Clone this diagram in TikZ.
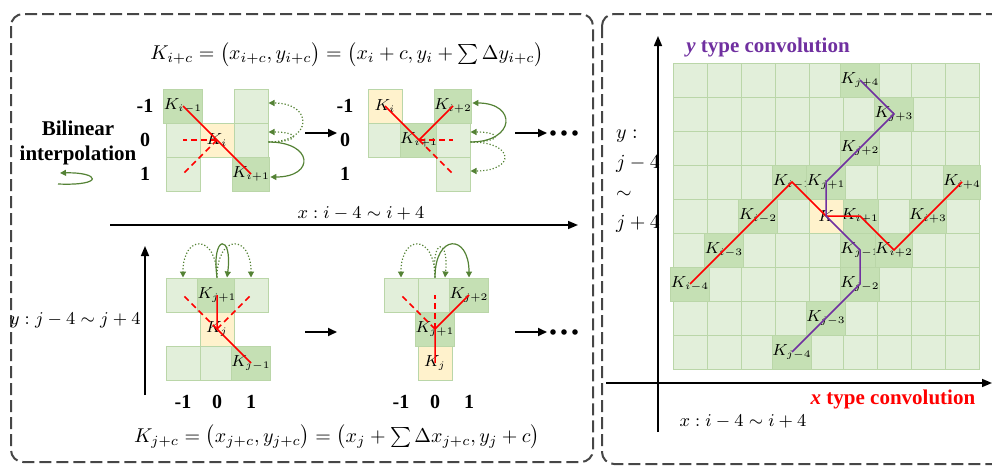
\documentclass[tikz,border=0pt]{standalone}
\usepackage{fontspec}
\setmainfont{Liberation Serif}
\usepackage{amsmath}
\usetikzlibrary{arrows.meta, calc}
\definecolor{lightcell}{RGB}{226,239,218}
\definecolor{darkcell}{RGB}{197,224,180}
\definecolor{yellowcell}{RGB}{255,242,204}
\definecolor{cellline}{RGB}{186,214,168}
\definecolor{arcgreen}{RGB}{84,130,53}
\definecolor{ypurple}{RGB}{112,48,160}
\definecolor{panelgray}{RGB}{70,70,70}
\newcommand{\kl}[1]{$K_{\scriptscriptstyle #1}$}

\begin{document}
\begin{tikzpicture}[x=0.5pt, y=-0.5pt,
    lcell/.style={draw=cellline, fill=lightcell, minimum size=17pt, inner sep=0pt, line width=0.5pt, font=\footnotesize},
    dcell/.style={lcell, fill=darkcell},
    ycell/.style={lcell, fill=yellowcell},
    panel/.style={draw=panelgray, line width=1pt, dash pattern=on 6pt off 2.5pt, rounded corners=6pt},
    xpath/.style={red, line width=0.75pt},
    xguess/.style={red, line width=0.75pt, dash pattern=on 3pt off 2pt},
    ypath/.style={ypurple, line width=0.75pt},
    pick/.style={arcgreen, line width=0.6pt, -{Triangle[length=3pt,width=3pt]}},
    guess/.style={pick, densely dotted},
    axisline/.style={line width=0.75pt, -{Triangle[length=5pt,width=4pt]}},
    stepto/.style={line width=1pt, -{Triangle[length=4.5pt,width=4pt]}},
    rowlab/.style={font=\bfseries, inner sep=1pt},
    rangelab/.style={font=\small},
    title/.style={font=\fontsize{10.5}{12.5}\selectfont\bfseries}
]
\useasboundingbox (0,0) rectangle (992,466);
\draw[panel] (11,14) rectangle (593,462);
\draw[panel] (602,14) rectangle (1010,464);

\node[inner sep=0pt] (eq1) at (347,55) {$K_{i+c}=\bigl(x_{i+c},y_{i+c}\bigr)=\bigl(x_i+c,y_i+\sum\Delta y_{i+c}\bigr)$};
\node[inner sep=0pt] (eq2) at (337,437) {$K_{j+c}=\bigl(x_{j+c},y_{j+c}\bigr)=\bigl(x_j+\sum\Delta x_{j+c},y_j+c\bigr)$};

\node[title, align=center, inner sep=0pt] (bil) at (78,143) {Bilinear\\interpolation};
\coordinate (l0) at (58,184);
\coordinate (l1) at (60,173);
\draw[pick] (l0) .. controls (105,186) and (100,172) .. (l1);

\foreach \c/\r/\st/\lab in {0/0/dcell/{\kl{i-1}}, 0/1/lcell/{}, 0/2/lcell/{}, 1/1/ycell/{\kl{i}}, 2/0/lcell/{}, 2/1/lcell/{}, 2/2/dcell/{\kl{i+1}}}
  \node[\st] (k1-\c\r) at ({183+34*\c},{106+34*\r}) {\lab};
\foreach \c/\r/\st/\lab in {0/0/ycell/{\kl{i}}, 0/1/lcell/{}, 1/1/dcell/{\kl{i+1}}, 2/0/dcell/{\kl{i+2}}, 2/1/lcell/{}, 2/2/lcell/{}}
  \node[\st] (k2-\c\r) at ({385+34*\c},{106+34*\r}) {\lab};
\foreach \c/\r/\st/\lab in {0/0/lcell/{}, 1/0/dcell/{\kl{j+1}}, 2/0/lcell/{}, 1/1/ycell/{\kl{j}}, 0/2/lcell/{}, 1/2/lcell/{}, 2/2/dcell/{\kl{j-1}}}
  \node[\st] (k3-\c\r) at ({183+34*\c},{295+34*\r}) {\lab};
\foreach \c/\r/\st/\lab in {0/0/lcell/{}, 1/0/lcell/{}, 2/0/dcell/{\kl{j+2}}, 1/1/dcell/{\kl{j+1}}, 1/2/ycell/{\kl{j}}}
  \node[\st] (k4-\c\r) at ({401+34*\c},{295+34*\r}) {\lab};

\foreach \r/\v in {0/-1, 1/0, 2/1} {
  \node[rowlab] (ra-\r) at (145,{106+34*\r}) {\v};
  \node[rowlab] (rb-\r) at (345,{106+34*\r}) {\v};
}
\foreach \c/\v in {0/-1, 1/0, 2/1} {
  \node[rowlab] (ca-\c) at ({183+34*\c},402) {\v};
  \node[rowlab] (cb-\c) at ({401+34*\c},402) {\v};
}

\draw[xpath] (k1-00.center) -- (k1-11.center) -- (k1-22.center);
\draw[xguess] (k1-11.center) -- (k1-01.center);
\draw[xguess] (k1-11.center) -- (k1-02.center);
\draw[xpath] (k2-00.center) -- (k2-11.center) -- (k2-20.center);
\draw[xguess] (k2-11.center) -- (k2-21.center);
\draw[xguess] (k2-11.center) -- (k2-22.center);
\draw[xpath] (k3-10.center) -- (k3-11.center) -- (k3-22.center);
\draw[xguess] (k3-11.center) -- (k3-00.center);
\draw[xguess] (k3-11.center) -- (k3-20.center);
\draw[xpath] (k4-12.center) -- (k4-11.center) -- (k4-20.center);
\draw[xguess] (k4-11.center) -- (k4-00.center);
\draw[xguess] (k4-11.center) -- (k4-10.center);

\coordinate (s1) at ([yshift=-1pt]k1-21.east);
\draw[pick] (s1) .. controls +(45,0) and +(45,0) .. ([yshift=-1.5pt]k1-22.east);
\draw[guess] (s1) .. controls +(45,0) and +(45,0) .. ([yshift=1.5pt]k1-20.east);
\draw[guess] (s1) .. controls +(32,0) and +(32,0) .. ([yshift=4pt]k1-21.east);
\coordinate (s2) at ([yshift=-1pt]k2-21.east);
\draw[pick] (s2) .. controls +(45,0) and +(45,0) .. ([yshift=1.5pt]k2-20.east);
\draw[guess] (s2) .. controls +(45,0) and +(45,0) .. ([yshift=1.5pt]k2-22.east);
\draw[guess] (s2) .. controls +(32,0) and +(32,0) .. ([yshift=4pt]k2-21.east);
\coordinate (s3) at (k3-10.north);
\draw[pick] (s3) .. controls +(-6,-44) and +(6,-44) .. ([xshift=5pt]k3-10.north);
\draw[guess] (s3) .. controls +(0,-44) and +(0,-44) .. (k3-00.north);
\draw[guess] (s3) .. controls +(0,-44) and +(0,-44) .. (k3-20.north);
\coordinate (s4) at (k4-10.north);
\draw[pick] (s4) .. controls +(0,-44) and +(0,-44) .. (k4-20.north);
\draw[guess] (s4) .. controls +(0,-44) and +(0,-44) .. (k4-00.north);
\draw[guess] (s4) .. controls +(-4,-40) and +(4,-40) .. ([xshift=5pt]k4-10.north);

\coordinate (a1) at (305,133);
\coordinate (b1) at (337,133);
\draw[stepto] (a1) -- (b1);
\coordinate (a2) at (515,133);
\coordinate (b2) at (547,133);
\draw[stepto] (a2) -- (b2);
\coordinate (a3) at (305,332);
\coordinate (b3) at (337,332);
\draw[stepto] (a3) -- (b3);
\coordinate (a4) at (515,332);
\coordinate (b4) at (547,332);
\draw[stepto] (a4) -- (b4);
\foreach \d in {0,1,2} {
  \fill ({553+11*\d},133) circle (1.4pt);
  \fill ({553+11*\d},332) circle (1.4pt);
}

\coordinate (hx0) at (110,225);
\coordinate (hx1) at (578,225);
\draw[axisline] (hx0) -- (hx1);
\node[rangelab] (xlab1) at (361,213) {$x:i-4\sim i+4$};
\coordinate (vy0) at (145,395);
\coordinate (vy1) at (145,246);
\draw[axisline] (vy0) -- (vy1);
\node[rangelab, anchor=east, inner sep=1pt] (ylab1) at (143,320) {$y:j-4\sim j+4$};

\foreach \c in {0,...,8}
  \foreach \r in {0,...,8}
    \node[lcell] (g-\c-\r) at ({690+34*\c},{80+34*\r}) {};
\foreach \c/\r/\lab in {5/0/j+4, 6/1/j+3, 5/2/j+2, 3/3/i-1, 4/3/j+1, 8/3/i+4, 2/4/i-2, 5/4/i+1, 7/4/i+3, 1/5/i-3, 5/5/j-1, 6/5/i+2, 0/6/i-4, 5/6/j-2, 4/7/j-3, 3/8/j-4}
  \node[dcell] (d-\c-\r) at (g-\c-\r) {\kl{\lab}};
\node[ycell] (kc) at (g-4-4) {$K$};

\draw[xpath] (d-0-6.center) -- (d-1-5.center) -- (d-2-4.center) -- (d-3-3.center) -- (kc.center) -- (d-5-4.center) -- (d-6-5.center) -- (d-7-4.center) -- (d-8-3.center);
\draw[ypath] (d-3-8.center) -- (d-4-7.center) -- (d-5-6.center) -- (d-5-5.center) -- (kc.center) -- (d-4-3.center) -- (d-5-2.center) -- (d-6-1.center) -- (d-5-0.center);

\coordinate (rx0) at (606,383);
\coordinate (rx1) at (992,383);
\draw[axisline] (rx0) -- (rx1);
\coordinate (ry0) at (658,432);
\coordinate (ry1) at (658,36);
\draw[axisline] (ry0) -- (ry1);
\node[title, text=ypurple] (ytitle) at (768,47) {\textit{y} type convolution};
\node[title, text=red] (xtitle) at (893,399) {\textit{x} type convolution};
\node[rangelab] (xlab2) at (743,421) {$x:i-4\sim i+4$};
\node[align=left, anchor=west] (ylab2) at (609,181) {$y:$\\[3pt]$j-4$\\[3pt]$\sim$\\[3pt]$j+4$};
\end{tikzpicture}
\end{document}
